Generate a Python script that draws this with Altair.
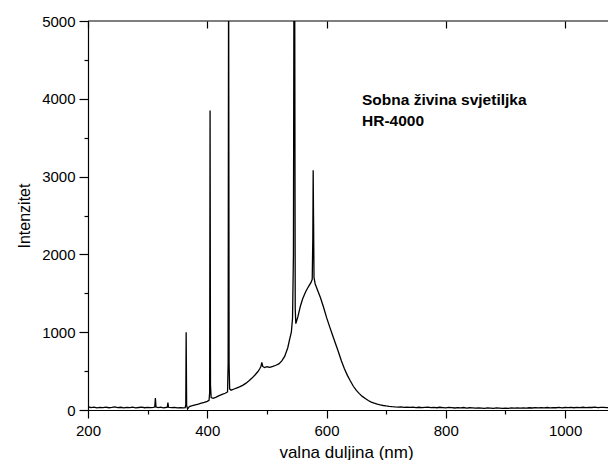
import altair as alt
import pandas as pd

# wavelength (nm) and intensity
wavelength = [
    200, 205, 210, 215, 220, 225, 230, 235, 240, 245, 250, 255, 260, 265, 270, 275, 280, 285,
    290, 295, 300, 305, 310, 312, 313, 314, 318, 322, 326, 330, 333, 334, 335, 340, 345, 350,
    355, 360, 363, 364, 364.6, 365.4, 367, 370, 375, 380, 385, 390, 395, 400, 403, 404, 404.7,
    405.4, 406.5, 410, 415, 420, 425, 430, 434, 435, 435.8, 436.6, 437.5, 440, 445, 450, 455,
    460, 465, 470, 475, 480, 485, 488, 490, 491.5, 493, 496, 500, 505, 510, 515, 520, 525, 530,
    535, 538, 541, 543, 544.5, 545.5, 546.5, 547.5, 548.5, 552, 556, 560, 565, 570, 574, 576,
    577, 577.6, 578.3, 579, 581, 585, 590, 595, 600, 605, 610, 615, 620, 625, 630, 635, 640,
    645, 650, 655, 660, 665, 670, 675, 680, 685, 690, 695, 700, 705, 710, 715, 720, 725, 730,
    735, 740, 745, 750, 755, 760, 765, 770, 775, 780, 785, 790, 795, 800, 805, 810, 815, 820,
    825, 830, 835, 840, 845, 850, 855, 860, 865, 870, 875, 880, 885, 890, 895, 900, 905, 910,
    915, 920, 925, 930, 935, 940, 945, 950, 955, 960, 965, 970, 975, 980, 985, 990, 995, 1000,
    1005, 1010, 1015, 1020, 1025, 1030, 1035, 1040, 1045, 1050, 1055, 1060, 1065, 1070, 1075,
    1080, 1085,
]
intensity = [
    42, 30, 36, 28, 34, 30, 37, 29, 33, 39, 30, 35, 27, 33, 30, 37, 28, 32,
    36, 29, 33, 30, 35, 40, 155, 38, 30, 36, 28, 32, 36, 95, 35, 30, 34, 28,
    31, 27, 30, 70, 1000, 60, 12, 45, 55, 66, 76, 88, 98, 112, 125, 220, 3850,
    320, 160, 150, 165, 185, 200, 215, 232, 600, 6000, 600, 272, 255, 270, 285, 300,
    320, 345, 375, 410, 450, 495, 530, 560, 612, 560, 545, 556, 548, 560, 575, 592, 632, 692,
    800, 905, 1000, 1180, 2000, 6000, 6000, 1300, 1110, 1200, 1330, 1430, 1520, 1590, 1640, 1680,
    2200, 3080, 2400, 1700, 1620, 1540, 1440, 1320, 1190, 1075, 965, 855, 745, 630, 530, 445, 372,
    305, 252, 210, 175, 148, 122, 102, 88, 76, 66, 58, 52, 47, 43, 40, 38, 41, 35,
    38, 33, 36, 31, 35, 30, 34, 38, 30, 33, 29, 35, 31, 27, 33, 30, 26, 31,
    28, 32, 25, 29, 27, 23, 28, 25, 22, 27, 24, 21, 26, 23, 20, 25, 22, 26,
    23, 27, 24, 28, 25, 29, 26, 30, 27, 31, 28, 32, 27, 31, 29, 33, 28, 32,
    30, 34, 29, 33, 31, 35, 30, 34, 32, 36, 31, 35, 33, 30, 34,
    32, 35,
]

x_major = [200, 400, 600, 800, 1000]
x_ticks = [200, 300, 400, 500, 600, 700, 800, 900, 1000]
y_ticks = [0, 500, 1000, 1500, 2000, 2500, 3000, 3500, 4000, 4500, 5000]
x_domain = [200, 1072]
y_domain = [0, 5000]

x_title = "valna duljina (nm)"
y_title = "Intenzitet"
note_lines = ["Sobna živina svjetiljka", "HR-4000"]

df = pd.DataFrame({"wl": wavelength, "I": intensity})
note_df = pd.DataFrame({"k": [0]})

FONT = "Liberation Sans"
W, H = 520, 389

x_bottom = alt.X(
    "wl:Q",
    scale=alt.Scale(domain=x_domain, nice=False, zero=False),
    axis=alt.Axis(
        values=x_ticks,
        labelExpr="datum.value % 200 === 0 ? datum.label : ''",
        tickSize={"condition": {"test": "datum.value % 200 !== 0", "value": 4}, "value": 8},
        labelPadding=5,
        labelFlush=False,
        title=x_title,
        titleX=258,
        titleY=42,
        titleBaseline="middle",
        titleFontSize=17,
        grid=False,
        format="d",
    ),
)
y_left = alt.Y(
    "I:Q",
    scale=alt.Scale(domain=y_domain, nice=False),
    axis=alt.Axis(
        values=y_ticks,
        labelExpr="datum.value % 1000 === 0 ? datum.label : ''",
        tickSize={"condition": {"test": "datum.value % 1000 !== 0", "value": 4}, "value": 9},
        labelPadding=4,
        labelFlush=False,
        title=y_title,
        titlePadding=9,
        titleFontSize=16,
        grid=False,
        format="d",
    ),
)

line = alt.Chart(df).mark_line(color="black", strokeWidth=1.3, clip=True).encode(
    x=x_bottom, y=y_left
)

top_axis = alt.Chart(df).mark_line(opacity=0).encode(
    x=alt.X(
        "wl:Q",
        scale=alt.Scale(domain=x_domain, nice=False, zero=False),
        axis=alt.Axis(
            orient="top", values=x_major, labels=False, domain=False,
            tickSize=7, offset=-7, title=None, grid=False,
        ),
    ),
    y=alt.value(0),
)

top_border = alt.Chart(note_df).mark_rule(color="black", strokeWidth=1.2).encode(
    x=alt.value(0), x2=alt.value(W), y=alt.value(0)
)

note = alt.Chart(note_df).mark_text(
    align="left", baseline="alphabetic", font=FONT, fontSize=15.5,
    fontWeight="bold", lineHeight=21, color="black",
).encode(x=alt.value(274), y=alt.value(84), text=alt.value(note_lines))

chart = (
    alt.layer(line, top_axis, top_border, note)
    .resolve_scale(x="independent")
    .properties(
        width=W, height=H,
        autosize=alt.AutoSizeParams(type="none"),
        padding={"left": 80, "top": 13, "right": 0, "bottom": 50},
    )
    .configure_view(stroke=None)
    .configure_axis(
        labelFont=FONT, titleFont=FONT, labelFontSize=15, labelColor="black",
        titleColor="black", titleFontWeight="normal", domainColor="black",
        tickColor="black", domainWidth=1.2, tickWidth=1.2,
    )
)

chart.save("out.html", embed_options={"renderer": "svg", "actions": False})
